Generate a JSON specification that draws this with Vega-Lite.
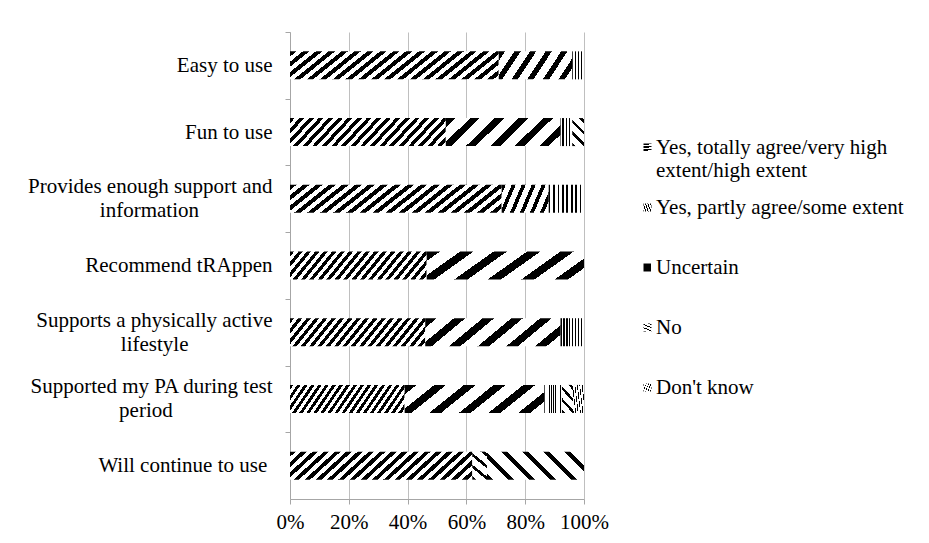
{
  "$schema": "https://vega.github.io/schema/vega-lite/v6.json",
  "width": 294,
  "height": 467,
  "autosize": {"type": "none"},
  "padding": {"left": 290, "top": 32, "right": 345, "bottom": 44},
  "background": "#ffffff",
  "config": {
    "font": "Liberation Serif",
    "view": {"stroke": null},
    "axis": {"labelFont": "Liberation Serif", "labelFontSize": 21, "labelColor": "#000000", "domainColor": "#a6a6a6", "tickColor": "#a6a6a6", "tickSize": 5, "gridColor": "#bfbfbf", "title": null}
  },
  "params": [
    {"name": "gYes", "value": {"gradient": "linear", "x1": 0, "y1": 0, "x2": 1.2, "y2": 0.2, "stops": [
      {"offset": 0, "color": "#000"}, {"offset": 0.025, "color": "#000"}, {"offset": 0.025, "color": "#fff"}, {"offset": 0.05, "color": "#fff"},
      {"offset": 0.05, "color": "#000"}, {"offset": 0.075, "color": "#000"}, {"offset": 0.075, "color": "#fff"}, {"offset": 0.1, "color": "#fff"},
      {"offset": 0.1, "color": "#000"}, {"offset": 0.125, "color": "#000"}, {"offset": 0.125, "color": "#fff"}, {"offset": 0.15, "color": "#fff"},
      {"offset": 0.15, "color": "#000"}, {"offset": 0.175, "color": "#000"}, {"offset": 0.175, "color": "#fff"}, {"offset": 0.2, "color": "#fff"},
      {"offset": 0.2, "color": "#000"}, {"offset": 0.225, "color": "#000"}, {"offset": 0.225, "color": "#fff"}, {"offset": 0.25, "color": "#fff"},
      {"offset": 0.25, "color": "#000"}, {"offset": 0.275, "color": "#000"}, {"offset": 0.275, "color": "#fff"}, {"offset": 0.3, "color": "#fff"},
      {"offset": 0.3, "color": "#000"}, {"offset": 0.325, "color": "#000"}, {"offset": 0.325, "color": "#fff"}, {"offset": 0.35, "color": "#fff"},
      {"offset": 0.35, "color": "#000"}, {"offset": 0.375, "color": "#000"}, {"offset": 0.375, "color": "#fff"}, {"offset": 0.4, "color": "#fff"},
      {"offset": 0.4, "color": "#000"}, {"offset": 0.425, "color": "#000"}, {"offset": 0.425, "color": "#fff"}, {"offset": 0.45, "color": "#fff"},
      {"offset": 0.45, "color": "#000"}, {"offset": 0.475, "color": "#000"}, {"offset": 0.475, "color": "#fff"}, {"offset": 0.5, "color": "#fff"},
      {"offset": 0.5, "color": "#000"}, {"offset": 0.525, "color": "#000"}, {"offset": 0.525, "color": "#fff"}, {"offset": 0.55, "color": "#fff"},
      {"offset": 0.55, "color": "#000"}, {"offset": 0.575, "color": "#000"}, {"offset": 0.575, "color": "#fff"}, {"offset": 0.6, "color": "#fff"},
      {"offset": 0.6, "color": "#000"}, {"offset": 0.625, "color": "#000"}, {"offset": 0.625, "color": "#fff"}, {"offset": 0.65, "color": "#fff"},
      {"offset": 0.65, "color": "#000"}, {"offset": 0.675, "color": "#000"}, {"offset": 0.675, "color": "#fff"}, {"offset": 0.7, "color": "#fff"},
      {"offset": 0.7, "color": "#000"}, {"offset": 0.725, "color": "#000"}, {"offset": 0.725, "color": "#fff"}, {"offset": 0.75, "color": "#fff"},
      {"offset": 0.75, "color": "#000"}, {"offset": 0.775, "color": "#000"}, {"offset": 0.775, "color": "#fff"}, {"offset": 0.8, "color": "#fff"},
      {"offset": 0.8, "color": "#000"}, {"offset": 0.825, "color": "#000"}, {"offset": 0.825, "color": "#fff"}, {"offset": 0.85, "color": "#fff"},
      {"offset": 0.85, "color": "#000"}, {"offset": 0.875, "color": "#000"}, {"offset": 0.875, "color": "#fff"}, {"offset": 0.9, "color": "#fff"},
      {"offset": 0.9, "color": "#000"}, {"offset": 0.925, "color": "#000"}, {"offset": 0.925, "color": "#fff"}, {"offset": 0.95, "color": "#fff"},
      {"offset": 0.95, "color": "#000"}, {"offset": 0.975, "color": "#000"}, {"offset": 0.975, "color": "#fff"}, {"offset": 1, "color": "#fff"}
    ]}},
    {"name": "gPartly", "value": {"gradient": "linear", "x1": 0, "y1": 0, "x2": 1.2, "y2": 0.3, "stops": [
      {"offset": 0, "color": "#000"}, {"offset": 0.0667, "color": "#000"}, {"offset": 0.0667, "color": "#fff"}, {"offset": 0.1667, "color": "#fff"},
      {"offset": 0.1667, "color": "#000"}, {"offset": 0.2333, "color": "#000"}, {"offset": 0.2333, "color": "#fff"}, {"offset": 0.3333, "color": "#fff"},
      {"offset": 0.3333, "color": "#000"}, {"offset": 0.4, "color": "#000"}, {"offset": 0.4, "color": "#fff"}, {"offset": 0.5, "color": "#fff"},
      {"offset": 0.5, "color": "#000"}, {"offset": 0.5667, "color": "#000"}, {"offset": 0.5667, "color": "#fff"}, {"offset": 0.6667, "color": "#fff"},
      {"offset": 0.6667, "color": "#000"}, {"offset": 0.7333, "color": "#000"}, {"offset": 0.7333, "color": "#fff"}, {"offset": 0.8333, "color": "#fff"},
      {"offset": 0.8333, "color": "#000"}, {"offset": 0.9, "color": "#000"}, {"offset": 0.9, "color": "#fff"}, {"offset": 1, "color": "#fff"}
    ]}},
    {"name": "gUnc", "value": {"gradient": "linear", "x1": 0, "y1": 0, "x2": 1, "y2": 0, "stops": [
      {"offset": 0, "color": "#000"}, {"offset": 0.05, "color": "#000"}, {"offset": 0.05, "color": "#fff"}, {"offset": 0.125, "color": "#fff"},
      {"offset": 0.125, "color": "#000"}, {"offset": 0.175, "color": "#000"}, {"offset": 0.175, "color": "#fff"}, {"offset": 0.25, "color": "#fff"},
      {"offset": 0.25, "color": "#000"}, {"offset": 0.3, "color": "#000"}, {"offset": 0.3, "color": "#fff"}, {"offset": 0.375, "color": "#fff"},
      {"offset": 0.375, "color": "#000"}, {"offset": 0.425, "color": "#000"}, {"offset": 0.425, "color": "#fff"}, {"offset": 0.5, "color": "#fff"},
      {"offset": 0.5, "color": "#000"}, {"offset": 0.55, "color": "#000"}, {"offset": 0.55, "color": "#fff"}, {"offset": 0.625, "color": "#fff"},
      {"offset": 0.625, "color": "#000"}, {"offset": 0.675, "color": "#000"}, {"offset": 0.675, "color": "#fff"}, {"offset": 0.75, "color": "#fff"},
      {"offset": 0.75, "color": "#000"}, {"offset": 0.8, "color": "#000"}, {"offset": 0.8, "color": "#fff"}, {"offset": 0.875, "color": "#fff"},
      {"offset": 0.875, "color": "#000"}, {"offset": 0.925, "color": "#000"}, {"offset": 0.925, "color": "#fff"}, {"offset": 1, "color": "#fff"}
    ]}},
    {"name": "gNo", "value": {"gradient": "linear", "x1": 0, "y1": 1, "x2": 0.6, "y2": -0.4, "stops": [
      {"offset": 0, "color": "#000"}, {"offset": 0.075, "color": "#000"}, {"offset": 0.075, "color": "#fff"}, {"offset": 0.25, "color": "#fff"},
      {"offset": 0.25, "color": "#000"}, {"offset": 0.325, "color": "#000"}, {"offset": 0.325, "color": "#fff"}, {"offset": 0.5, "color": "#fff"},
      {"offset": 0.5, "color": "#000"}, {"offset": 0.575, "color": "#000"}, {"offset": 0.575, "color": "#fff"}, {"offset": 0.75, "color": "#fff"},
      {"offset": 0.75, "color": "#000"}, {"offset": 0.825, "color": "#000"}, {"offset": 0.825, "color": "#fff"}, {"offset": 1, "color": "#fff"}
    ]}},
    {"name": "gDk", "value": {"gradient": "linear", "x1": 0, "y1": 1, "x2": 1.2, "y2": 0.65, "stops": [
      {"offset": 0, "color": "#000"}, {"offset": 0.05, "color": "#000"}, {"offset": 0.05, "color": "#fff"}, {"offset": 0.1667, "color": "#fff"},
      {"offset": 0.1667, "color": "#000"}, {"offset": 0.2167, "color": "#000"}, {"offset": 0.2167, "color": "#fff"}, {"offset": 0.3333, "color": "#fff"},
      {"offset": 0.3333, "color": "#000"}, {"offset": 0.3833, "color": "#000"}, {"offset": 0.3833, "color": "#fff"}, {"offset": 0.5, "color": "#fff"},
      {"offset": 0.5, "color": "#000"}, {"offset": 0.55, "color": "#000"}, {"offset": 0.55, "color": "#fff"}, {"offset": 0.6667, "color": "#fff"},
      {"offset": 0.6667, "color": "#000"}, {"offset": 0.7167, "color": "#000"}, {"offset": 0.7167, "color": "#fff"}, {"offset": 0.8333, "color": "#fff"},
      {"offset": 0.8333, "color": "#000"}, {"offset": 0.8833, "color": "#000"}, {"offset": 0.8833, "color": "#fff"}, {"offset": 1, "color": "#fff"}
    ]}}
  ],
  "data": {
    "values": [
      {"item": "Easy to use", "resp": "Yes, totally agree/very high extent/high extent", "pct": 71},
      {"item": "Easy to use", "resp": "Yes, partly agree/some extent", "pct": 25},
      {"item": "Easy to use", "resp": "Uncertain", "pct": 4},
      {"item": "Fun to use", "resp": "Yes, totally agree/very high extent/high extent", "pct": 53},
      {"item": "Fun to use", "resp": "Yes, partly agree/some extent", "pct": 39},
      {"item": "Fun to use", "resp": "Uncertain", "pct": 4},
      {"item": "Fun to use", "resp": "No", "pct": 4},
      {"item": "Provides enough support and information", "resp": "Yes, totally agree/very high extent/high extent", "pct": 72},
      {"item": "Provides enough support and information", "resp": "Yes, partly agree/some extent", "pct": 16},
      {"item": "Provides enough support and information", "resp": "Uncertain", "pct": 12},
      {"item": "Recommend tRAppen", "resp": "Yes, totally agree/very high extent/high extent", "pct": 46.5},
      {"item": "Recommend tRAppen", "resp": "Yes, partly agree/some extent", "pct": 53.5},
      {"item": "Supports a physically active lifestyle", "resp": "Yes, totally agree/very high extent/high extent", "pct": 46},
      {"item": "Supports a physically active lifestyle", "resp": "Yes, partly agree/some extent", "pct": 46},
      {"item": "Supports a physically active lifestyle", "resp": "Uncertain", "pct": 8},
      {"item": "Supported my PA during test period", "resp": "Yes, totally agree/very high extent/high extent", "pct": 39},
      {"item": "Supported my PA during test period", "resp": "Yes, partly agree/some extent", "pct": 47.5},
      {"item": "Supported my PA during test period", "resp": "Uncertain", "pct": 6},
      {"item": "Supported my PA during test period", "resp": "No", "pct": 3.75},
      {"item": "Supported my PA during test period", "resp": "Don't know", "pct": 3.75},
      {"item": "Will continue to use", "resp": "Yes, totally agree/very high extent/high extent", "pct": 62},
      {"item": "Will continue to use", "resp": "No", "pct": 5},
      {"item": "Will continue to use", "resp": "Don't know", "pct": 33}
    ]
  },
  "transform": [
    {"calculate": "indexof(['Yes, totally agree/very high extent/high extent','Yes, partly agree/some extent','Uncertain','No',\"Don't know\"], datum.resp)", "as": "rank"},
    {"stack": "pct", "groupby": ["item"], "offset": "normalize", "sort": [{"field": "rank", "order": "ascending"}], "as": ["x0", "x1"]}
  ],
  "mark": {"type": "bar"},
  "encoding": {
    "y": {
      "field": "item", "type": "nominal", "sort": null,
      "scale": {"paddingInner": 0.58, "paddingOuter": 0.29},
      "axis": {
        "labelPadding": 13, "bandPosition": 0, "tickOffset": -19.35, "labelLimit": 400, "labelLineHeight": 24, "grid": false,
        "labelOffset": {"condition": {"test": "indexof(['Provides enough support and information','Supports a physically active lifestyle','Supported my PA during test period'], datum.value) >= 0", "value": 7.35}, "value": 19.35},
        "labelExpr": "datum.value === 'Provides enough support and information' ? ['Provides enough support and', 'information\u00a0\u00a0\u00a0\u00a0\u00a0\u00a0\u00a0\u00a0\u00a0\u00a0\u00a0\u00a0\u00a0\u00a0\u2060'] : datum.value === 'Supports a physically active lifestyle' ? ['Supports a physically active', 'lifestyle\u00a0\u00a0\u00a0\u00a0\u00a0\u00a0\u00a0\u00a0\u00a0\u00a0\u00a0\u00a0\u00a0\u00a0\u00a0\u00a0\u2060'] : datum.value === 'Supported my PA during test period' ? ['Supported my PA during test', 'period\u00a0\u00a0\u00a0\u00a0\u00a0\u00a0\u00a0\u00a0\u00a0\u00a0\u00a0\u00a0\u00a0\u00a0\u00a0\u00a0\u00a0\u00a0\u00a0\u2060'] : datum.value === 'Will continue to use' ? 'Will continue to use\u00a0\u2060' : datum.value"
      }
    },
    "x": {
      "field": "x0", "type": "quantitative",
      "scale": {"domain": [0, 1], "nice": false},
      "axis": {"values": [0, 0.2, 0.4, 0.6, 0.8, 1], "format": "%", "labelPadding": 7, "grid": true, "labelFlush": false}
    },
    "x2": {"field": "x1"},
    "color": {
      "field": "resp", "type": "nominal",
      "scale": {
        "domain": ["Yes, totally agree/very high extent/high extent", "Yes, partly agree/some extent", "Uncertain", "No", "Don't know"],
        "range": [{"expr": "gYes"}, {"expr": "gPartly"}, {"expr": "gUnc"}, {"expr": "gNo"}, {"expr": "gDk"}]
      },
      "legend": {
        "title": null, "orient": "none", "legendX": 347, "legendY": 105, "padding": 0,
        "symbolType": "square", "symbolSize": 64, "symbolStrokeWidth": 0,
        "labelFont": "Liberation Serif", "labelFontSize": 21, "labelColor": "#000000", "labelLimit": 400, "labelOffset": -2, "rowPadding": 15,
        "labelExpr": "indexof(datum.label, 'totally') >= 0 ? ['Yes, totally agree/very high', 'extent/high extent'] : [datum.label, '']"
      }
    }
  }
}
